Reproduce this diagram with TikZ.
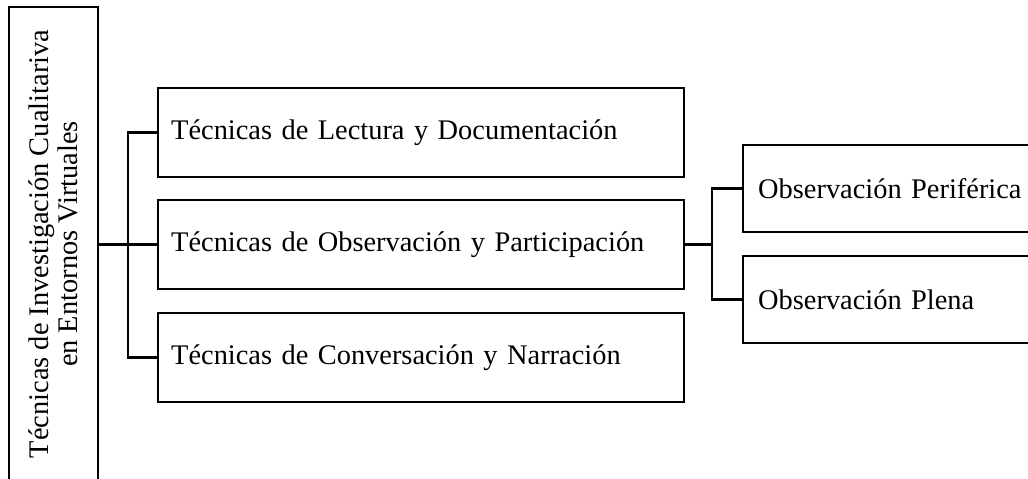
\documentclass[tikz,border=0pt]{standalone}
\usepackage{fontspec}
\setmainfont{Liberation Serif}
\usetikzlibrary{positioning}

\begin{document}
\begin{tikzpicture}[x=1pt,y=-1pt,line width=2.4pt,
  box/.style={draw,rectangle,font=\fontsize{28.4}{28.5}\selectfont},
  midbox/.style={box,minimum height=89pt,text width=500pt,inner xsep=13pt,align=left},
  sidebox/.style={box,minimum height=87pt,text width=276pt,inner xsep=15pt,align=left}]

\useasboundingbox (0,0) rectangle (1028,479);

\node[box,rotate=90,minimum width=474pt,minimum height=89pt,align=center](root) at (53.5,244){T\'ecnicas de Investigaci\'on Cualitariva\\en Entornos Virtuales};
\node[midbox,anchor=west](mid1) at (157,132.5){T\'ecnicas de Lectura y Documentaci\'on};
\node[midbox,anchor=west](mid2) at (157,244.5){T\'ecnicas de Observaci\'on y Participaci\'on};
\node[midbox,anchor=west](mid3) at (157,357.5){T\'ecnicas de Conversaci\'on y Narraci\'on};
\node[sidebox,anchor=west](side1) at (742,188.5){Observaci\'on Perif\'erica};
\node[sidebox,anchor=west](side2) at (742,299.5){Observaci\'on Plena};

\coordinate (j1) at (128,244.5);
\coordinate (j2) at (712,244.5);

\draw (root.south |- mid2) -- (mid2.west);
\draw (mid1.west) -| (j1) |- (mid3.west);
\draw (mid2.east) -- (j2);
\draw (side1.west) -| (j2) |- (side2.west);

\end{tikzpicture}
\end{document}
